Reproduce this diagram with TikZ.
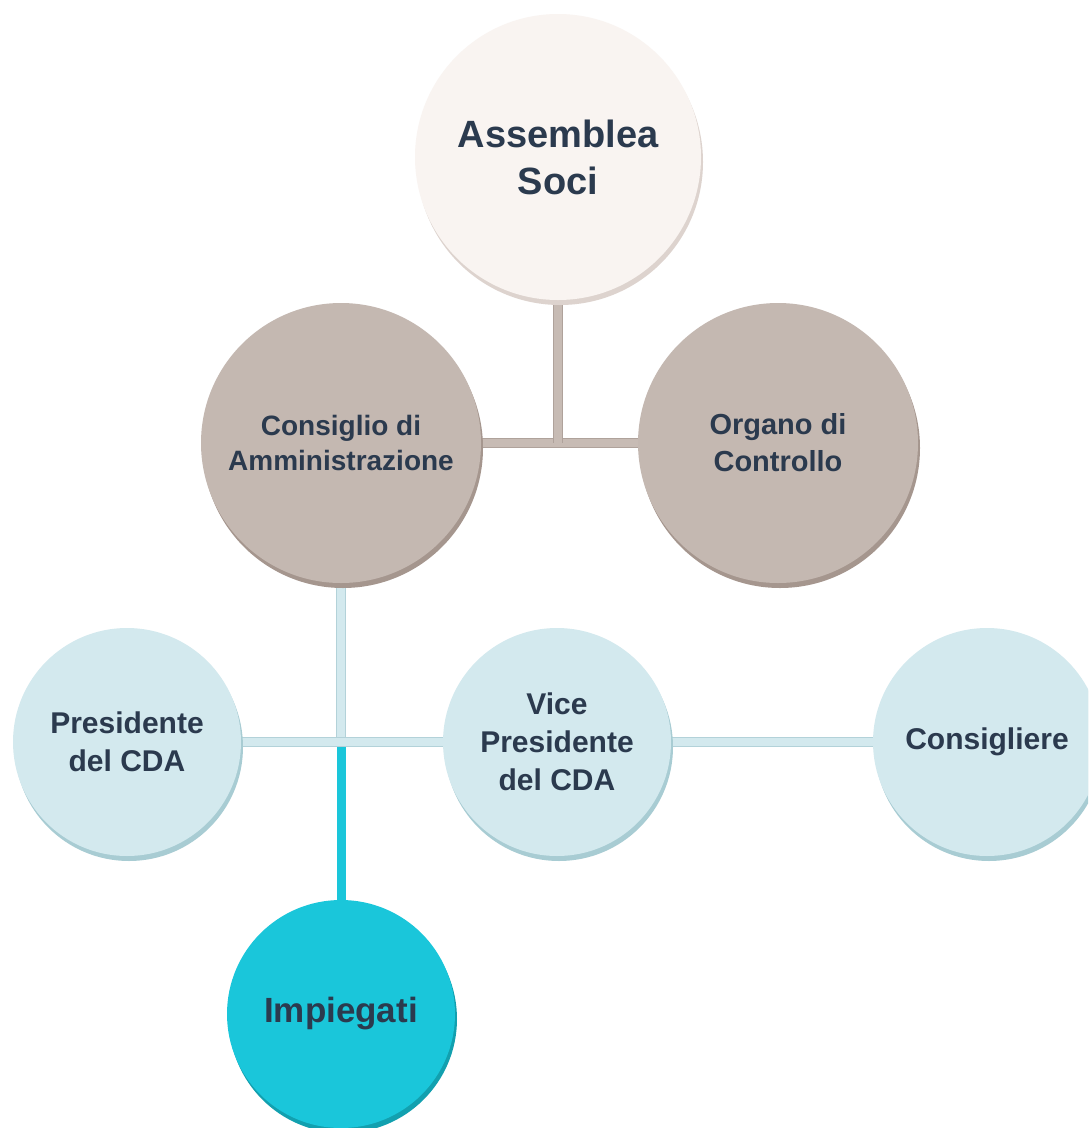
\documentclass[tikz,border=0pt]{standalone}
\usepackage{fontspec}
\setmainfont{Liberation Sans}
\usetikzlibrary{shadows}
\definecolor{txt}{HTML}{2B3A4E}
\definecolor{sociF}{HTML}{F9F4F1}
\definecolor{sociR}{HTML}{DDD3CE}
\definecolor{brownF}{HTML}{C4B8B1}
\definecolor{brownR}{HTML}{A5968E}
\definecolor{blueF}{HTML}{D3E9EE}
\definecolor{blueR}{HTML}{A8CCD3}
\definecolor{tealF}{HTML}{1AC6DA}
\definecolor{tealR}{HTML}{12A0AF}
\definecolor{brownL}{HTML}{C7BBB4}
\definecolor{brownE}{HTML}{AFA29B}
\definecolor{blueL}{HTML}{D3E9EE}
\definecolor{blueE}{HTML}{B3D2D9}
\pgfdeclarelayer{bg}
\pgfsetlayers{bg,main}
\tikzset{
  orgnode/.style={circle, inner sep=0pt, align=center, text=txt, font=\bfseries,
    general shadow={fill=#1, shadow xshift=2pt, shadow yshift=-5pt}},
  big/.style={orgnode=sociR, fill=sociF, minimum size=286pt},
  mid/.style={orgnode=brownR, fill=brownF, minimum size=280pt},
  small/.style={orgnode=blueR, fill=blueF, minimum size=228pt},
  emp/.style={orgnode=tealR, fill=tealF, minimum size=228pt},
  brownline/.style={line width=10pt, draw=brownE, postaction={draw=brownL, line width=8pt}},
  blueline/.style={line width=10pt, draw=blueE, postaction={draw=blueL, line width=8pt}},
  tealline/.style={line width=9pt, draw=tealF},
}
\begin{document}
\begin{tikzpicture}[x=1pt,y=-1pt]
\useasboundingbox (0,0) rectangle (1088,1128);
\clip (0,0) rectangle (1088,1128);

\node[big, font=\bfseries\fontsize{38}{47}\selectfont] (soci) at (558,157) {Assemblea\\Soci};
\node[mid, font=\bfseries\fontsize{28}{35}\selectfont] (cda) at (341,443) {Consiglio di\\Amministrazione};
\node[mid, font=\bfseries\fontsize{29}{37}\selectfont] (org) at (778,443) {Organo di\\Controllo};
\node[small, font=\bfseries\fontsize{30}{38}\selectfont] (pres) at (127,742) {Presidente\\del CDA};
\node[small, font=\bfseries\fontsize{30}{38}\selectfont] (vice) at (557,742) {Vice\\Presidente\\del CDA};
\node[small, font=\bfseries\fontsize{30}{38}\selectfont] (cons) at (987,742) {Consigliere};
\node[emp, font=\bfseries\fontsize{35}{42}\selectfont] (imp) at (341,1014) {Impiegati};

\coordinate (jtop) at (soci.south |- cda.east);
\coordinate (jmid) at (cda.south |- pres.east);

\begin{pgfonlayer}{bg}
  \fill[white] (0,0) rectangle (1088,1128);
  \draw[brownline] (cda.east) -- (org.west);
  \draw[brownline] (soci.south) -- (jtop);
  \draw[tealline] (jmid) -- (imp.north);
  \draw[blueline] (cda.south) -- (jmid);
  \draw[blueline] (pres.east) -- (vice.west);
  \draw[blueline] (vice.east) -- (cons.west);
\end{pgfonlayer}
\end{tikzpicture}
\end{document}
